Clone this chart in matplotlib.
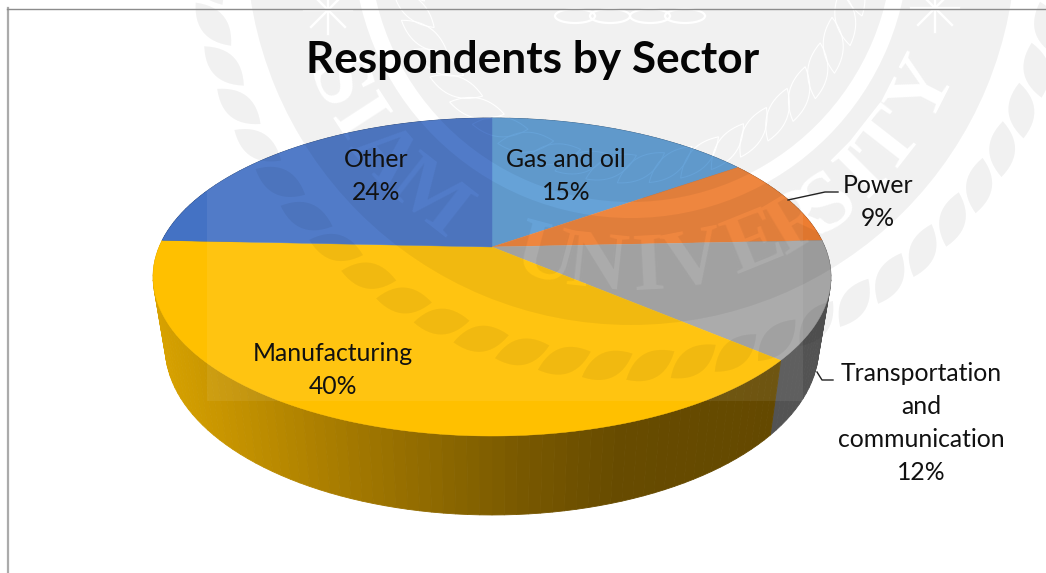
#!/usr/bin/env python
# -*- coding: utf-8 -*-
import numpy as np
import matplotlib
matplotlib.use('Agg')
import matplotlib.pyplot as plt
from matplotlib.backends.backend_agg import FigureCanvasAgg
from matplotlib.figure import Figure
from matplotlib.patches import Polygon, Rectangle, Wedge

W, H = 1046, 573

sectors = ['Gas and oil', 'Power', 'Transportation\nand\ncommunication',
           'Manufacturing', 'Other']
shares = [15, 9, 12, 40, 24]
top_colors = ['#5B9BD5', '#ED7D31', '#A5A5A5', '#FFC000', '#4472C4']
label_pos = [(566, 176), (878, 202), (921, 423), (333, 370), (376, 176)]
title = 'Respondents by Sector'

# seal letters and where they sit, degrees away from straight down
seal_letters = list('SIAMUNIVERSITY')
seal_angles = [-64, -57, -49, -38, -15, -6, 3, 11, 22, 31, 37, 45, 52, 63]

plt.rcParams['font.family'] = ['Lato', 'DejaVu Sans']


def project(theta, cy, rx, ry, k):
    '''perspective disc, theta in radians clockwise from 12 o'clock'''
    u, v = np.sin(theta), np.cos(theta)
    w = 1 + k * v
    return 492 + rx * u / w, cy - ry * v / w


def top_rim(theta):
    return project(theta, 250, 334, 154.4, 0.17)


def low_rim(theta):
    return project(theta, 318.6, 322, 163, 0.17)


def side_color(x):
    # shading of the yellow wall runs left to right
    xs = [160, 250, 350, 450, 523, 620, 780]
    r = np.interp(x, xs, [216, 192, 164, 138, 120, 103, 100])
    g = np.interp(x, xs, [162, 143, 121, 102, 88, 75, 73])
    return (r / 255, g / 255, 0)


def leaf(r, ang, length, width, tilt, cx=631, cy=-60):
    t = np.linspace(-1, 1, 15)
    a = np.concatenate([t, t[::-1]])
    b = np.concatenate([width / 2 * (1 - t ** 2), -width / 2 * (1 - t[::-1] ** 2)])
    a = a * length / 2
    phi = np.radians(ang + tilt)
    x0 = cx + r * np.sin(np.radians(ang))
    y0 = cy + r * np.cos(np.radians(ang))
    return np.column_stack([x0 + a * np.cos(phi) + b * np.sin(phi),
                            y0 - a * np.sin(phi) + b * np.cos(phi)])


def seal_mask():
    '''draws the seal off screen, returns 0..1 coverage'''
    f = Figure(figsize=(W / 100, H / 100), dpi=100)
    canvas = FigureCanvasAgg(f)
    a = f.add_axes([0, 0, 1, 1])
    a.set_xlim(0, W)
    a.set_ylim(H, 0)
    a.axis('off')
    c = (631, -60)
    a.add_patch(Wedge(c, 385, 0, 360, width=107, fc='k', ec='none'))
    a.add_patch(Wedge(c, 262, 0, 360, fc='k', ec='none'))
    for ang in np.arange(-96, 97, 5.8):
        a.add_patch(Polygon(leaf(426, ang, 56, 26, 28), fc='k', ec='none'))
    for ang in np.arange(-80, 81, 7.5):
        a.add_patch(Polygon(leaf(228, ang, 56, 20, 30), fc='none', ec='w', lw=0.7))
    for ln, ang in zip(seal_letters, seal_angles):
        x = c[0] + 330 * np.sin(np.radians(ang))
        y = c[1] + 330 * np.cos(np.radians(ang))
        a.text(x, y, ln, color='w', fontsize=60, family='Liberation Serif',
               fontweight='bold', rotation=ang, rotation_mode='anchor',
               ha='center', va='center')
    # small stars of the crest
    for sx, sy in [(328, 10), (935, 8)]:
        for s in np.arange(0, 180, 45):
            dx, dy = 24 * np.cos(np.radians(s)), 24 * np.sin(np.radians(s))
            a.plot([sx - dx, sx + dx], [sy - dy, sy + dy], color='w', lw=1.6)
    # scrollwork on top
    sw = np.linspace(0, 2 * np.pi, 60)
    for ox in [575, 610, 650, 685]:
        a.plot(ox + 20 * np.cos(sw), 16 + 7 * np.sin(sw), color='w', lw=1.5)
    canvas.draw()
    buf = np.asarray(canvas.buffer_rgba())
    return 1 - buf[..., 0] / 255.0


fig = plt.figure(figsize=(W / 100, H / 100), dpi=100)
ax = fig.add_axes([0, 0, 1, 1])
ax.set_xlim(0, W)
ax.set_ylim(H, 0)
ax.axis('off')

edges = np.radians(np.concatenate([[0], np.cumsum(shares)]) * 3.6)

# side wall, far segments first so the near ones land on top
segs = []
for i in range(len(shares)):
    steps = max(int(shares[i] * 2), 2)
    th = np.linspace(edges[i], edges[i + 1], steps + 1)
    for t0, t1 in zip(th[:-1], th[1:]):
        segs.append((np.cos((t0 + t1) / 2), i, t0, t1))
segs.sort(key=lambda s: -s[0])
for _, i, t0, t1 in segs:
    x0, y0 = top_rim(t0)
    x1, y1 = top_rim(t1)
    x2, y2 = low_rim(t1)
    x3, y3 = low_rim(t0)
    if sectors[i] == 'Manufacturing':
        col = side_color((x0 + x1 + x2 + x3) / 4)
    else:
        col = tuple(0.5 * np.array(matplotlib.colors.to_rgb(top_colors[i])))
    ax.add_patch(Polygon([(x0, y0), (x1, y1), (x2, y2), (x3, y3)], fc=col,
                         ec=col, lw=0.6, zorder=2))

# top face
for i in range(len(shares)):
    th = np.linspace(edges[i], edges[i + 1], 120)
    x, y = top_rim(th)
    pts = np.column_stack([np.r_[492, x], np.r_[247, y]])
    ax.add_patch(Polygon(pts, fc=top_colors[i], ec=top_colors[i], lw=0.3, zorder=3))

# pale square of the watermark
ax.add_patch(Rectangle((207, 100), 596, 301, fc='w', ec='none', alpha=0.07, zorder=4))

# seal drawn as a translucent dark layer
mask = seal_mask()
layer = np.zeros((H, W, 4))
layer[..., 3] = mask * 0.055
ax.imshow(layer, extent=(0, W, H, 0), interpolation='none', aspect='auto', zorder=5)
ax.set_xlim(0, W)
ax.set_ylim(H, 0)

# chart frame
ax.plot([7.5, 7.5], [8, H], color='#ABABAB', lw=1.6, zorder=6)
ax.plot([7, W], [8.5, 8.5], color='#8C8C8C', lw=1.0, zorder=6)

ax.text(533, 60, title, fontsize=31.8, fontweight='bold', color='#050505',
        ha='center', va='center', zorder=8)

for name, val, pos in zip(sectors, shares, label_pos):
    ax.text(pos[0], pos[1], '%s\n%d%%' % (name, val), fontsize=17.8, color='#111111',
            ha='center', va='center', linespacing=1.52, zorder=8)

# leader lines
ax.plot([788, 825, 838], [200, 192, 192], color='#222222', lw=1, zorder=7)
ax.plot([817, 822, 833], [372, 380, 380], color='#222222', lw=1, zorder=7)

fig.savefig('out.png', dpi=100)
